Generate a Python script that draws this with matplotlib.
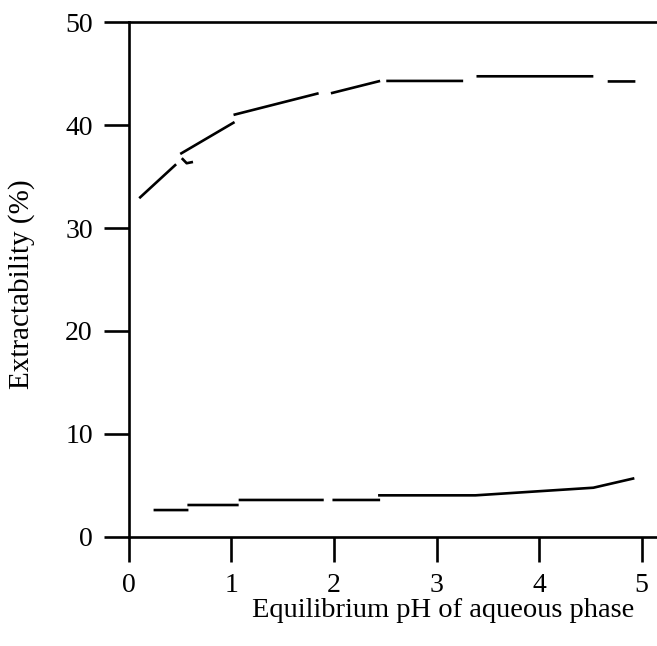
import numpy as np
import matplotlib
matplotlib.use("Agg")
from matplotlib import pyplot as plt

nan = np.nan

# upper curve (dashes separated by NaN)
upper_x = [0.10, 0.46, nan, 0.50, 1.03, nan, 1.02, 1.85, nan, 1.97, 2.45, nan,
           2.51, 3.26, nan, 3.39, 4.53, nan, 4.67, 4.94]
upper_y = [32.9, 36.2, nan, 37.2, 40.3, nan, 41.0, 43.1, nan, 43.1, 44.3, nan,
           44.3, 44.3, nan, 44.75, 44.75, nan, 44.25, 44.25]
# small hook near pH 0.55
hook_x = [0.524, 0.563, 0.612]
hook_y = [36.7, 36.3, 36.4]

# lower curve
lower_x = [0.24, 0.58, nan, 0.57, 1.07, nan, 1.07, 1.90, nan, 1.985, 2.45, nan,
           2.43, 3.38, 4.53, 4.93]
lower_y = [2.59, 2.59, nan, 3.08, 3.08, nan, 3.57, 3.57, nan, 3.57, 3.57, nan,
           4.02, 4.02, 4.76, 5.68]

x_ticks = [0, 1, 2, 3, 4, 5]
y_ticks = [0, 10, 20, 30, 40, 50]

plt.rcParams["font.family"] = ["Liberation Serif", "DejaVu Serif"]

fig = plt.figure(figsize=(6.57, 6.46), dpi=100)
ax = fig.add_axes([0.1963, 0.1692, 0.8037, 0.7963])

lw = 1.9
ax.plot(upper_x, upper_y, color="black", lw=lw, solid_capstyle="butt")
ax.plot(hook_x, hook_y, color="black", lw=lw)
ax.plot(lower_x, lower_y, color="black", lw=lw, solid_capstyle="butt")

ax.set_xlim(0, 5.151)
ax.set_ylim(0, 50)
ax.set_xticks(x_ticks)
ax.set_yticks(y_ticks)

for side in ("left", "top", "bottom"):
    ax.spines[side].set_linewidth(lw)
ax.spines["right"].set_visible(False)

ax.tick_params(axis="both", direction="out", length=18, width=lw, labelsize=20)
ax.tick_params(axis="x", pad=8)
ax.tick_params(axis="y", pad=8)

ax.set_xlabel("Equilibrium pH of aqueous phase", fontsize=20.5)
ax.xaxis.set_label_coords(0.595, -0.12)
ax.set_ylabel("Extractability (%)", fontsize=21)
ax.yaxis.set_label_coords(-0.178, 0.49)

fig.savefig("out.png", dpi=100)
